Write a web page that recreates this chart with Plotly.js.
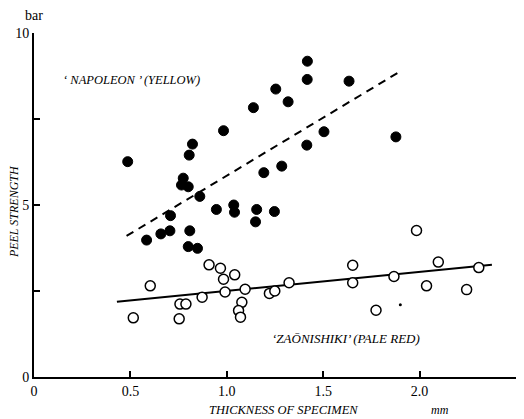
<!DOCTYPE html>
<html>
<head>
<meta charset="utf-8">
<script src="https://cdn.plot.ly/plotly-3.0.1.min.js"></script>
<style>html,body{margin:0;padding:0;background:#fff;}#chart{width:524px;height:419px;}</style>
</head>
<body>
<div id="chart"></div>
<script>
// 'NAPOLEON' (YELLOW) — filled circles
const napoleonX = [0.486,0.584,0.658,0.705,0.708,0.765,0.774,0.800,0.805,0.822,0.808,0.800,0.848,0.860,0.946,0.983,1.036,1.040,1.138,1.149,1.155,1.192,1.247,1.254,1.285,1.318,1.415,1.417,1.418,1.504,1.634,1.877];
const napoleonY = [6.26,3.98,4.16,4.25,4.69,5.58,5.78,5.53,6.45,6.77,4.25,3.79,3.74,5.25,4.87,7.16,5.00,4.79,7.83,4.51,4.87,5.94,4.81,8.37,6.13,8.00,6.74,8.65,9.18,7.13,8.60,6.98];
// 'ZAŌNISHIKI' (PALE RED) — open circles
const zaoX = [0.515,0.603,0.757,0.788,0.753,0.872,0.908,0.967,0.983,1.041,0.991,1.095,1.078,1.061,1.071,1.221,1.249,1.323,1.653,1.653,1.867,1.774,1.984,2.097,2.036,2.244,2.307];
const zaoY = [1.72,2.65,2.12,2.12,1.69,2.32,3.26,3.16,2.84,2.97,2.47,2.55,2.17,1.93,1.74,2.43,2.50,2.74,3.25,2.74,2.92,1.94,4.26,3.34,2.65,2.54,3.18];
// fitted lines
const napoleonFitX = [0.48, 1.91];
const napoleonFitY = [4.10, 8.92];
const zaoFitX = [0.43, 2.375];
const zaoFitY = [2.19, 3.26];
// stray speck
const speckX = [1.90];
const speckY = [2.10];
// ticks
const xTickVals = [0, 0.5, 1.0, 1.5, 2.0, 2.5];
const xTickText = ["0", "0.5", "1.0", "1.5", "2.0", "2.5"];
const yTickVals = [0, 2.5, 5, 7.5, 10];
const yTickText = ["0", "", "5", "", "10"];

const FONT = "Liberation Serif";
const traces = [
  {x: napoleonFitX, y: napoleonFitY, mode: "lines", line: {color: "#000", width: 2, dash: "8px,6px"}, hoverinfo: "skip"},
  {x: zaoFitX, y: zaoFitY, mode: "lines", line: {color: "#000", width: 2}, hoverinfo: "skip"},
  {x: napoleonX, y: napoleonY, mode: "markers", marker: {color: "#000", size: 10, line: {color: "#000", width: 1}}},
  {x: zaoX, y: zaoY, mode: "markers", marker: {color: "#fff", size: 10, line: {color: "#000", width: 1.5}}},
  {x: speckX, y: speckY, mode: "markers", marker: {color: "#000", size: 3}}
];

const layout = {
  width: 524, height: 419,
  margin: {l: 34, r: 8, t: 33, b: 42},
  paper_bgcolor: "#fff", plot_bgcolor: "#fff",
  showlegend: false,
  font: {family: FONT, color: "#000", size: 12},
  xaxis: {
    range: [0, 2.5], showgrid: false, zeroline: false,
    showline: true, linecolor: "#000", linewidth: 2,
    ticks: "inside", ticklen: 6, tickwidth: 2, tickcolor: "#000",
    tickvals: xTickVals, ticktext: xTickText,
    tickfont: {family: FONT, size: 14}
  },
  yaxis: {
    range: [0, 10], showgrid: false, zeroline: false,
    showline: true, linecolor: "#000", linewidth: 2,
    ticks: "inside", ticklen: 6, tickwidth: 2, tickcolor: "#000",
    tickvals: yTickVals, ticktext: yTickText,
    tickfont: {family: FONT, size: 14}
  },
  annotations: [
    {text: "bar", xref: "paper", yref: "paper", x: 0, y: 1.052, showarrow: false, xanchor: "center", yanchor: "middle", font: {family: FONT, size: 14}},
    {text: "<i>‘ NAPOLEON ’ (YELLOW)</i>", xref: "paper", yref: "paper", x: 0.203, y: 0.863, showarrow: false, xanchor: "center", yanchor: "middle", font: {family: FONT, size: 12.5}},
    {text: "<i>‘ZAŌNISHIKI’ (PALE RED)</i>", xref: "paper", yref: "paper", x: 0.647, y: 0.113, showarrow: false, xanchor: "center", yanchor: "middle", font: {family: FONT, size: 13}},
    {text: "<i>THICKNESS OF SPECIMEN</i>", xref: "paper", yref: "paper", x: 0.517, y: -0.096, showarrow: false, xanchor: "center", yanchor: "middle", font: {family: FONT, size: 12.5}},
    {text: "<i>mm</i>", xref: "paper", yref: "paper", x: 0.842, y: -0.096, showarrow: false, xanchor: "center", yanchor: "middle", font: {family: FONT, size: 12}},
    {text: "<i>PEEL STRENGTH</i>", xref: "paper", yref: "paper", x: -0.041, y: 0.480, showarrow: false, textangle: -90, xanchor: "center", yanchor: "middle", font: {family: FONT, size: 12}}
  ]
};

Plotly.newPlot("chart", traces, layout, {displayModeBar: false, staticPlot: true});
</script>
</body>
</html>
